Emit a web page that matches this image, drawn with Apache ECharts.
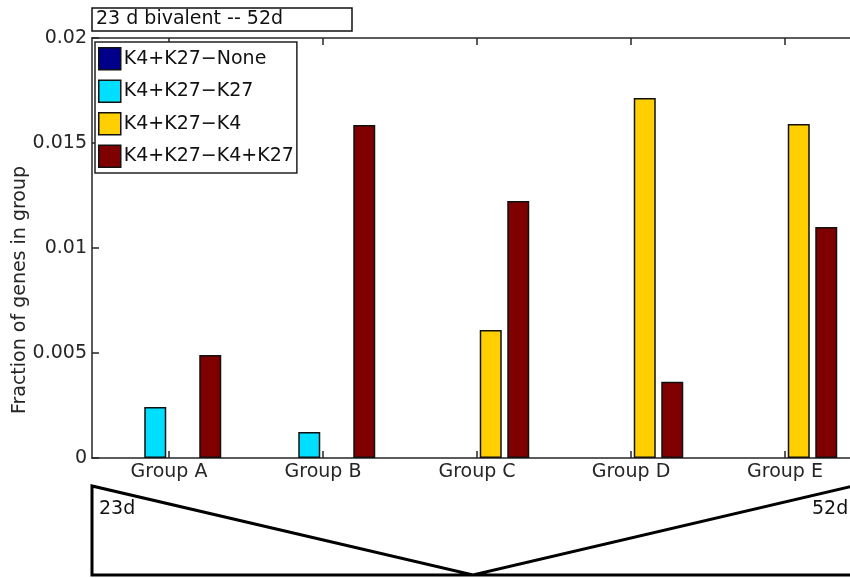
<!DOCTYPE html>
<html>
<head>
<meta charset="utf-8">
<script src="https://cdn.jsdelivr.net/npm/echarts@6/dist/echarts.min.js"></script>
<style>
  html, body { margin: 0; padding: 0; background: #fff; }
  #chart { width: 850px; height: 578px; }
</style>
</head>
<body>
<div id="chart"></div>
<script>
// categories and series values
const groups = ['Group A', 'Group B', 'Group C', 'Group D', 'Group E']
const seriesNames = ['K4+K27−None', 'K4+K27−K27', 'K4+K27−K4', 'K4+K27−K4+K27']
const noneVals = [0, 0, 0, 0, 0]
const k27Vals = [0.00243, 0.00124, 0, 0, 0]
const k4Vals = [0, 0, 0.0061, 0.01714, 0.0159]
const bothVals = [0.0049, 0.01586, 0.01224, 0.00363, 0.011]
const yTicks = { min: 0, max: 0.02, step: 0.005 }

const colors = ['#00008b', '#00dfff', '#ffcf00', '#7f0000']
const font = "'DejaVu Sans', sans-serif"
const ink = '#262626'

const chart = echarts.init(document.getElementById('chart'))

// zero-height bars get no edge, like matlab where they vanish into the axis
const barSeries = [noneVals, k27Vals, k4Vals, bothVals].map((vals, i) => ({
  name: seriesNames[i],
  type: 'bar',
  data: vals.map(v => v === 0 ? { value: v, itemStyle: { borderWidth: 0 } } : v),
  barWidth: 22,
  barGap: '25%',
  itemStyle: { color: colors[i], borderColor: '#111', borderWidth: 1.5 },
  emphasis: { disabled: true }
}))

const tickCommon = { show: true, inside: true, length: 7, alignWithLabel: true, lineStyle: { color: ink, width: 1.5 } }

chart.setOption({
  animation: false,
  textStyle: { fontFamily: font },
  title: {
    text: '23 d bivalent -- 52d',
    left: 92,
    top: 8,
    padding: [2, 69, 2, 4],
    borderColor: '#111',
    borderWidth: 1.5,
    textStyle: { fontFamily: font, fontSize: 19, fontWeight: 'normal', color: '#111' }
  },
  legend: {
    orient: 'vertical',
    left: 95,
    top: 42,
    padding: [5, 3, 5, 3],
    itemWidth: 22,
    itemHeight: 22,
    itemGap: 9,
    icon: 'rect',
    selectedMode: false,
    backgroundColor: '#fff',
    borderColor: '#222',
    borderWidth: 1.5,
    data: seriesNames,
    itemStyle: { borderColor: '#111', borderWidth: 1.5 },
    textStyle: { fontFamily: font, fontSize: 19, color: '#111', padding: [0, 0, 0, -2] }
  },
  grid: { left: 92, top: 38, width: 770, height: 420, containLabel: false, outerBoundsMode: 'none' },
  xAxis: [
    {
      type: 'category',
      data: groups,
      position: 'bottom',
      axisLine: { lineStyle: { color: ink, width: 1.5 } },
      axisTick: tickCommon,
      axisLabel: { fontFamily: font, fontSize: 19, color: ink, margin: 5 }
    },
    {
      type: 'category',
      data: groups,
      position: 'top',
      axisLine: { lineStyle: { color: ink, width: 1.5 } },
      axisTick: tickCommon,
      axisLabel: { show: false }
    }
  ],
  yAxis: {
    type: 'value',
    min: yTicks.min,
    max: yTicks.max,
    interval: yTicks.step,
    name: 'Fraction of genes in group',
    nameLocation: 'middle',
    nameGap: 62,
    nameMoveOverlap: false,
    nameTextStyle: { fontFamily: font, fontSize: 19, color: ink, padding: [0, 84, 0, 0] },
    axisLine: { show: true, lineStyle: { color: ink, width: 1.5 } },
    axisTick: { show: true, inside: true, length: 7, lineStyle: { color: ink, width: 1.5 } },
    axisLabel: { fontFamily: font, fontSize: 19, color: ink, margin: 5 },
    splitLine: { show: false }
  },
  series: barSeries,
  graphic: [
    {
      type: 'polyline',
      shape: { points: [[862, 484], [473, 575], [92, 486], [92, 575], [862, 575]] },
      style: { stroke: '#000', lineWidth: 3, fill: null },
      silent: true
    },
    {
      type: 'text',
      left: 99,
      top: 500,
      style: { text: '23d', font: "19px 'DejaVu Sans'", fill: '#111' }
    },
    {
      type: 'text',
      left: 812,
      top: 500,
      style: { text: '52d', font: "19px 'DejaVu Sans'", fill: '#111' }
    }
  ]
})
</script>
</body>
</html>
